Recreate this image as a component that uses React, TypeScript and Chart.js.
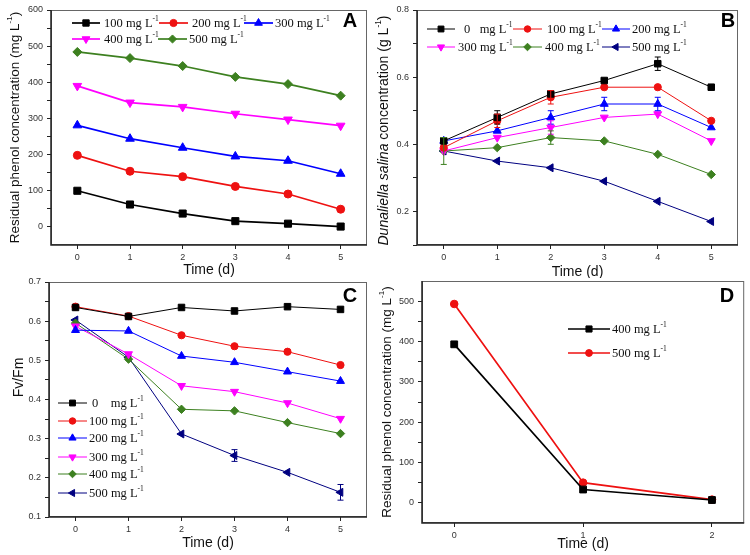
import React, { useEffect, useRef } from 'react';
import { Chart, registerables } from 'chart.js';
Chart.register(...registerables);

// ---------- data ----------
const days = [0, 1, 2, 3, 4, 5];
const daysD = [0, 1, 2];

// Panel A: residual phenol (mg L-1)
const phenolA100 = [100, 62, 37, 16, 9, 1];
const phenolA200 = [198, 154, 139, 112, 91, 49];
const phenolA300 = [281, 244, 219, 195, 183, 147];
const phenolA400 = [390, 344, 332, 313, 297, 280];
const phenolA500 = [484, 467, 445, 415, 395, 363];
const errA100 = [3, 3, 3, 3, 3, 3];
const errA200 = [4, 5, 4, 5, 3, 5];
const errA300 = [5, 8, 5, 6, 4, 5];
const errA400 = [5, 4, 4, 5, 5, 5];
const errA500 = [4, 3, 4, 4, 4, 8];

// Panel B: Dunaliella salina concentration (g L-1)
const algaB0 = [0.41, 0.48, 0.55, 0.59, 0.64, 0.57];
const algaB100 = [0.39, 0.47, 0.54, 0.57, 0.57, 0.47];
const algaB200 = [0.41, 0.44, 0.48, 0.52, 0.52, 0.45];
const algaB300 = [0.38, 0.42, 0.45, 0.48, 0.49, 0.41];
const algaB400 = [0.38, 0.39, 0.42, 0.41, 0.37, 0.31];
const algaB500 = [0.38, 0.35, 0.33, 0.29, 0.23, 0.17];
const errB0 = [0.01, 0.02, 0.01, 0.01, 0.02, 0.01];
const errB100 = [0.01, 0.02, 0.02, 0.01, 0.01, 0.01];
const errB200 = [0.01, 0.01, 0.02, 0.02, 0.02, 0.01];
const errB300 = [0.01, 0.01, 0.02, 0.01, 0.01, 0.01];
const errB400 = [0.04, 0.01, 0.02, 0.01, 0.01, 0.01];
const errB500 = [0.01, 0.01, 0.01, 0.01, 0.01, 0.01];

// Panel C: Fv/Fm
const fvC0 = [0.635, 0.612, 0.635, 0.626, 0.637, 0.630];
const fvC100 = [0.637, 0.613, 0.564, 0.536, 0.522, 0.488];
const fvC200 = [0.577, 0.575, 0.511, 0.495, 0.471, 0.447];
const fvC300 = [0.587, 0.516, 0.435, 0.420, 0.391, 0.351];
const fvC400 = [0.595, 0.503, 0.375, 0.371, 0.341, 0.313];
const fvC500 = [0.603, 0.508, 0.312, 0.257, 0.214, 0.163];
const errC0 = [0.005, 0.004, 0.004, 0.004, 0.004, 0.004];
const errC100 = [0.005, 0.005, 0.005, 0.005, 0.005, 0.005];
const errC200 = [0.01, 0.005, 0.005, 0.005, 0.005, 0.005];
const errC300 = [0.005, 0.005, 0.005, 0.005, 0.005, 0.005];
const errC400 = [0.005, 0.005, 0.005, 0.005, 0.005, 0.005];
const errC500 = [0.005, 0.005, 0.005, 0.015, 0.005, 0.02];

// Panel D: residual phenol (mg L-1)
const phenolD400 = [393, 33, 7];
const phenolD500 = [493, 50, 8];
const errD400 = [8, 10, 3];
const errD500 = [4, 4, 3];

// tick values
const xTicks = [0, 1, 2, 3, 4, 5];
const xTicksD = [0, 1, 2];
const yTicksA = [0, 50, 100, 150, 200, 250, 300, 350, 400, 450, 500, 550, 600];
const yTicksB = [0.1, 0.2, 0.3, 0.4, 0.5, 0.6, 0.7, 0.8];
const yTicksC = [0.1, 0.15, 0.2, 0.25, 0.3, 0.35, 0.4, 0.45, 0.5, 0.55, 0.6, 0.65, 0.7];
const yTicksD = [0, 50, 100, 150, 200, 250, 300, 350, 400, 450, 500];

// ---------- styling ----------
const SANS = '"Liberation Sans", Arial, sans-serif';
const SERIF = '"Liberation Serif", "Times New Roman", serif';
const BLACK = '#000000';
const RED = '#ee1111';
const BLUE = '#0000ff';
const MAGENTA = '#ff00ff';
const GREEN = '#3d8020';
const NAVY = '#000080';

type Part = { t: string; sup?: boolean; it?: boolean };
type Series = { xs: number[]; ys: number[]; err: number[]; color: string; style: string; rot: number; r: number; name: string };
type LegendItem = { i: number; y: number; x0: number; x1: number; tx: number; parts: Part[] };
type PanelCfg = {
  left: number; top: number; w: number; h: number;
  area: { l: number; t: number; r: number; b: number };
  xMin: number; xMax: number; xT: number[];
  yMin: number; yMax: number; yT: number[]; yStep: number; yDec: number;
  lineWidth: number;
  yTitle: Part[]; yTitleX: number; yTitleSize: number; yTitleDy: number;
  xTitleDy: number;
  letter: string; letterX: number; letterY: number;
  legend: LegendItem[];
  series: Series[];
};

const mgL = (n: string): Part[] => [{ t: n + ' mg L' }, { t: '-1', sup: true }];

function drawParts(ctx: CanvasRenderingContext2D, parts: Part[], x: number, y: number, size: number, family: string, color: string, center: boolean) {
  const fontFor = (p: Part) => `${p.it ? 'italic ' : ''}${p.sup ? size * 0.6 : size}px ${family}`;
  let total = 0;
  for (const p of parts) { ctx.font = fontFor(p); total += ctx.measureText(p.t).width; }
  let cx = center ? x - total / 2 : x;
  ctx.textBaseline = 'middle';
  ctx.textAlign = 'left';
  ctx.fillStyle = color;
  for (const p of parts) {
    ctx.font = fontFor(p);
    ctx.fillText(p.t, cx, p.sup ? y - size * 0.38 : y);
    cx += ctx.measureText(p.t).width;
  }
}

function drawMarker(ctx: CanvasRenderingContext2D, style: string, rotDeg: number, r: number, x: number, y: number, color: string) {
  ctx.save();
  ctx.fillStyle = color;
  ctx.strokeStyle = color;
  ctx.lineWidth = 1;
  ctx.beginPath();
  if (style === 'circle') ctx.arc(x, y, r, 0, Math.PI * 2);
  else if (style === 'rect') { const s = Math.SQRT1_2 * r; ctx.rect(x - s, y - s, 2 * s, 2 * s); }
  else if (style === 'rectRot') { ctx.moveTo(x, y - r); ctx.lineTo(x + r, y); ctx.lineTo(x, y + r); ctx.lineTo(x - r, y); ctx.closePath(); }
  else {
    let a = (rotDeg * Math.PI) / 180;
    ctx.moveTo(x + Math.sin(a) * r, y - Math.cos(a) * r);
    a += (2 * Math.PI) / 3;
    ctx.lineTo(x + Math.sin(a) * r, y - Math.cos(a) * r);
    a += (2 * Math.PI) / 3;
    ctx.lineTo(x + Math.sin(a) * r, y - Math.cos(a) * r);
    ctx.closePath();
  }
  ctx.fill();
  ctx.stroke();
  ctx.restore();
}

const S = (xs: number[], ys: number[], err: number[], color: string, style: string, rot: number, r: number, name: string): Series =>
  ({ xs, ys, err, color, style, rot, r, name });

// ---------- panels ----------
const panelA: PanelCfg = {
  left: 0, top: 0, w: 375, h: 278,
  area: { l: 51, t: 10, r: 367, b: 245 },
  xMin: -0.5, xMax: 5.5, xT: xTicks,
  yMin: -50, yMax: 600, yT: yTicksA, yStep: 100, yDec: 0,
  lineWidth: 1.7,
  yTitle: [{ t: 'Residual phenol concentration (mg L' }, { t: '-1', sup: true }, { t: ')' }],
  yTitleX: 15, yTitleSize: 13.5, yTitleDy: 0, xTitleDy: 25,
  letter: 'A', letterX: 350, letterY: 21,
  series: [
    S(days, phenolA100, errA100, BLACK, 'rect', 0, 5, '100 mg L⁻¹'),
    S(days, phenolA200, errA200, RED, 'circle', 0, 4, '200 mg L⁻¹'),
    S(days, phenolA300, errA300, BLUE, 'triangle', 0, 5, '300 mg L⁻¹'),
    S(days, phenolA400, errA400, MAGENTA, 'triangle', 180, 5, '400 mg L⁻¹'),
    S(days, phenolA500, errA500, GREEN, 'rectRot', 0, 4.5, '500 mg L⁻¹'),
  ],
  legend: [
    { i: 0, y: 23, x0: 72, x1: 100, tx: 104, parts: mgL('100') },
    { i: 1, y: 23, x0: 159, x1: 188, tx: 192, parts: mgL('200') },
    { i: 2, y: 23, x0: 244, x1: 273, tx: 275, parts: mgL('300') },
    { i: 3, y: 39, x0: 72, x1: 100, tx: 104, parts: mgL('400') },
    { i: 4, y: 39, x0: 158, x1: 187, tx: 189, parts: mgL('500') },
  ],
};

const panelB: PanelCfg = {
  left: 375, top: 0, w: 375, h: 278,
  area: { l: 42, t: 10, r: 363, b: 245 },
  xMin: -0.5, xMax: 5.5, xT: xTicks,
  yMin: 0.1, yMax: 0.8, yT: yTicksB, yStep: 0.2, yDec: 1,
  lineWidth: 1,
  yTitle: [{ t: 'Dunaliella salina', it: true }, { t: ' concentration (g L' }, { t: '-1', sup: true }, { t: ')' }],
  yTitleX: 9, yTitleSize: 14, yTitleDy: 3, xTitleDy: 27,
  letter: 'B', letterX: 353, letterY: 21,
  series: [
    S(days, algaB0, errB0, BLACK, 'rect', 0, 4.6, '0 mg L⁻¹'),
    S(days, algaB100, errB100, RED, 'circle', 0, 3.6, '100 mg L⁻¹'),
    S(days, algaB200, errB200, BLUE, 'triangle', 0, 4.6, '200 mg L⁻¹'),
    S(days, algaB300, errB300, MAGENTA, 'triangle', 180, 4.6, '300 mg L⁻¹'),
    S(days, algaB400, errB400, GREEN, 'rectRot', 0, 4.2, '400 mg L⁻¹'),
    S(days, algaB500, errB500, NAVY, 'triangle', 270, 4.6, '500 mg L⁻¹'),
  ],
  legend: [
    { i: 0, y: 29, x0: 52, x1: 80, tx: 89, parts: mgL('0  ') },
    { i: 1, y: 29, x0: 138, x1: 167, tx: 172, parts: mgL('100') },
    { i: 2, y: 29, x0: 227, x1: 255, tx: 257, parts: mgL('200') },
    { i: 3, y: 47, x0: 52, x1: 80, tx: 83, parts: mgL('300') },
    { i: 4, y: 47, x0: 138, x1: 167, tx: 170, parts: mgL('400') },
    { i: 5, y: 47, x0: 227, x1: 255, tx: 257, parts: mgL('500') },
  ],
};

const panelC: PanelCfg = {
  left: 0, top: 265, w: 375, h: 290,
  area: { l: 49, t: 17, r: 367, b: 252 },
  xMin: -0.5, xMax: 5.5, xT: xTicks,
  yMin: 0.1, yMax: 0.7, yT: yTicksC, yStep: 0.1, yDec: 1,
  lineWidth: 1,
  yTitle: [{ t: 'Fv/Fm' }],
  yTitleX: 19, yTitleSize: 14, yTitleDy: -22, xTitleDy: 26,
  letter: 'C', letterX: 350, letterY: 31,
  series: [
    S(days, fvC0, errC0, BLACK, 'rect', 0, 4.6, '0 mg L⁻¹'),
    S(days, fvC100, errC100, RED, 'circle', 0, 3.6, '100 mg L⁻¹'),
    S(days, fvC200, errC200, BLUE, 'triangle', 0, 4.6, '200 mg L⁻¹'),
    S(days, fvC300, errC300, MAGENTA, 'triangle', 180, 4.6, '300 mg L⁻¹'),
    S(days, fvC400, errC400, GREEN, 'rectRot', 0, 4.2, '400 mg L⁻¹'),
    S(days, fvC500, errC500, NAVY, 'triangle', 270, 4.6, '500 mg L⁻¹'),
  ],
  legend: [
    { i: 0, y: 138, x0: 58, x1: 87, tx: 92, parts: mgL('0   ') },
    { i: 1, y: 156, x0: 58, x1: 87, tx: 89, parts: mgL('100') },
    { i: 2, y: 173, x0: 58, x1: 87, tx: 89, parts: mgL('200') },
    { i: 3, y: 192, x0: 58, x1: 87, tx: 89, parts: mgL('300') },
    { i: 4, y: 209, x0: 58, x1: 87, tx: 89, parts: mgL('400') },
    { i: 5, y: 228, x0: 58, x1: 87, tx: 89, parts: mgL('500') },
  ],
};

const panelD: PanelCfg = {
  left: 375, top: 265, w: 375, h: 290,
  area: { l: 47, t: 16, r: 371, b: 258 },
  xMin: -0.25, xMax: 2.25, xT: xTicksD,
  yMin: -50, yMax: 550, yT: yTicksD, yStep: 100, yDec: 0,
  lineWidth: 1.7,
  yTitle: [{ t: 'Residual phenol concentration (mg L' }, { t: '-1', sup: true }, { t: ')' }],
  yTitleX: 12, yTitleSize: 13.5, yTitleDy: 0, xTitleDy: 21,
  letter: 'D', letterX: 352, letterY: 31,
  series: [
    S(daysD, phenolD400, errD400, BLACK, 'rect', 0, 4.8, '400 mg L⁻¹'),
    S(daysD, phenolD500, errD500, RED, 'circle', 0, 3.8, '500 mg L⁻¹'),
  ],
  legend: [
    { i: 0, y: 64, x0: 193, x1: 235, tx: 237, parts: mgL('400') },
    { i: 1, y: 88, x0: 193, x1: 235, tx: 237, parts: mgL('500') },
  ],
};

const panels = [panelA, panelB, panelC, panelD];

function Panel({ cfg }: { cfg: PanelCfg }) {
  const ref = useRef<HTMLCanvasElement>(null);
  useEffect(() => {
    const canvas = ref.current;
    if (!canvas) return;
    const deco = {
      id: 'deco',
      afterDatasetsDraw(chart: any) {
        const ctx: CanvasRenderingContext2D = chart.ctx;
        const { left, right, top, bottom } = chart.chartArea;
        const xs = chart.scales.x;
        const ys = chart.scales.y;
        ctx.save();
        // frame
        ctx.strokeStyle = '#666';
        ctx.lineWidth = 1;
        ctx.strokeRect(left + 0.5, top + 0.5, right - left - 1, bottom - top - 1);
        ctx.strokeStyle = '#222';
        ctx.lineWidth = 1.5;
        ctx.beginPath();
        ctx.moveTo(left, top);
        ctx.lineTo(left, bottom);
        ctx.lineTo(right, bottom);
        ctx.stroke();
        // error bars
        ctx.lineWidth = 1;
        cfg.series.forEach((s) => {
          ctx.strokeStyle = s.color;
          s.xs.forEach((xv, i) => {
            const e = s.err[i];
            const px = xs.getPixelForValue(xv);
            const y1 = ys.getPixelForValue(s.ys[i] + e);
            const y2 = ys.getPixelForValue(s.ys[i] - e);
            if (y2 - y1 < s.r * 2) return;
            ctx.beginPath();
            ctx.moveTo(px, y1); ctx.lineTo(px, y2);
            ctx.moveTo(px - 3, y1); ctx.lineTo(px + 3, y1);
            ctx.moveTo(px - 3, y2); ctx.lineTo(px + 3, y2);
            ctx.stroke();
          });
        });
        ctx.restore();
      },
      afterDraw(chart: any) {
        const ctx: CanvasRenderingContext2D = chart.ctx;
        const { left, right, top, bottom } = chart.chartArea;
        ctx.save();
        // y title
        ctx.save();
        ctx.translate(cfg.yTitleX, (top + bottom) / 2 + cfg.yTitleDy);
        ctx.rotate(-Math.PI / 2);
        drawParts(ctx, cfg.yTitle, 0, 0, cfg.yTitleSize, SANS, '#111', true);
        ctx.restore();
        // x title
        drawParts(ctx, [{ t: 'Time (d)' }], (left + right) / 2, bottom + cfg.xTitleDy, 14, SANS, '#111', true);
        // panel letter
        ctx.font = `bold 20px ${SANS}`;
        ctx.fillStyle = '#000';
        ctx.textAlign = 'center';
        ctx.textBaseline = 'middle';
        ctx.fillText(cfg.letter, cfg.letterX, cfg.letterY);
        // legend
        cfg.legend.forEach((it) => {
          const s = cfg.series[it.i];
          ctx.strokeStyle = s.color;
          ctx.lineWidth = cfg.lineWidth;
          ctx.beginPath();
          ctx.moveTo(it.x0, it.y);
          ctx.lineTo(it.x1, it.y);
          ctx.stroke();
          drawMarker(ctx, s.style, s.rot, s.r * 0.9, (it.x0 + it.x1) / 2, it.y, s.color);
          drawParts(ctx, it.parts, it.tx, it.y + 0.5, 12.5, SERIF, '#111', false);
        });
        ctx.restore();
      },
    };

    const tickFont = { family: SANS, size: 9 };
    const chart = new Chart(canvas, {
      type: 'line',
      data: {
        datasets: cfg.series.map((s) => ({
          label: s.name,
          data: s.xs.map((x, i) => ({ x, y: s.ys[i] })),
          borderColor: s.color,
          backgroundColor: s.color,
          borderWidth: cfg.lineWidth,
          pointStyle: s.style as any,
          pointRotation: s.rot,
          pointRadius: s.r,
          pointBackgroundColor: s.color,
          pointBorderColor: s.color,
          pointBorderWidth: 1,
          tension: 0,
          fill: false,
        })),
      },
      options: {
        responsive: false,
        animation: false,
        events: [],
        layout: { padding: { top: cfg.area.t, right: cfg.w - cfg.area.r, left: 0, bottom: 0 } },
        plugins: { legend: { display: false }, tooltip: { enabled: false } },
        scales: {
          x: {
            type: 'linear',
            min: cfg.xMin,
            max: cfg.xMax,
            afterBuildTicks: (sc: any) => { sc.ticks = cfg.xT.map((v) => ({ value: v })); },
            afterFit: (sc: any) => { sc.height = cfg.h - cfg.area.b; },
            ticks: { autoSkip: false, maxRotation: 0, font: tickFont, color: '#333', padding: 3, callback: (v: any) => String(v) },
            grid: { drawOnChartArea: false, drawTicks: true, tickLength: 4, color: '#222' },
            border: { display: false },
          },
          y: {
            type: 'linear',
            min: cfg.yMin,
            max: cfg.yMax,
            afterBuildTicks: (sc: any) => { sc.ticks = cfg.yT.map((v) => ({ value: v })); },
            afterFit: (sc: any) => { sc.width = cfg.area.l; },
            ticks: {
              autoSkip: false,
              font: tickFont,
              color: '#333',
              padding: 4,
              callback: (v: any) => {
                const q = v / cfg.yStep;
                return Math.abs(q - Math.round(q)) < 1e-6 ? Number(v).toFixed(cfg.yDec) : '';
              },
            },
            grid: { drawOnChartArea: false, drawTicks: true, tickLength: 4, color: '#222' },
            border: { display: false },
          },
        },
      },
      plugins: [deco],
    });
    return () => chart.destroy();
  }, [cfg]);
  return (
    <canvas
      ref={ref}
      width={cfg.w}
      height={cfg.h}
      style={{ position: 'absolute', left: cfg.left, top: cfg.top, width: cfg.w, height: cfg.h }}
    />
  );
}

export default function App() {
  return (
    <div style={{ position: 'absolute', left: 0, top: 0, width: 750, height: 555, background: '#fff', overflow: 'hidden' }}>
      {panels.map((p, i) => (
        <Panel key={i} cfg={p} />
      ))}
    </div>
  );
}
